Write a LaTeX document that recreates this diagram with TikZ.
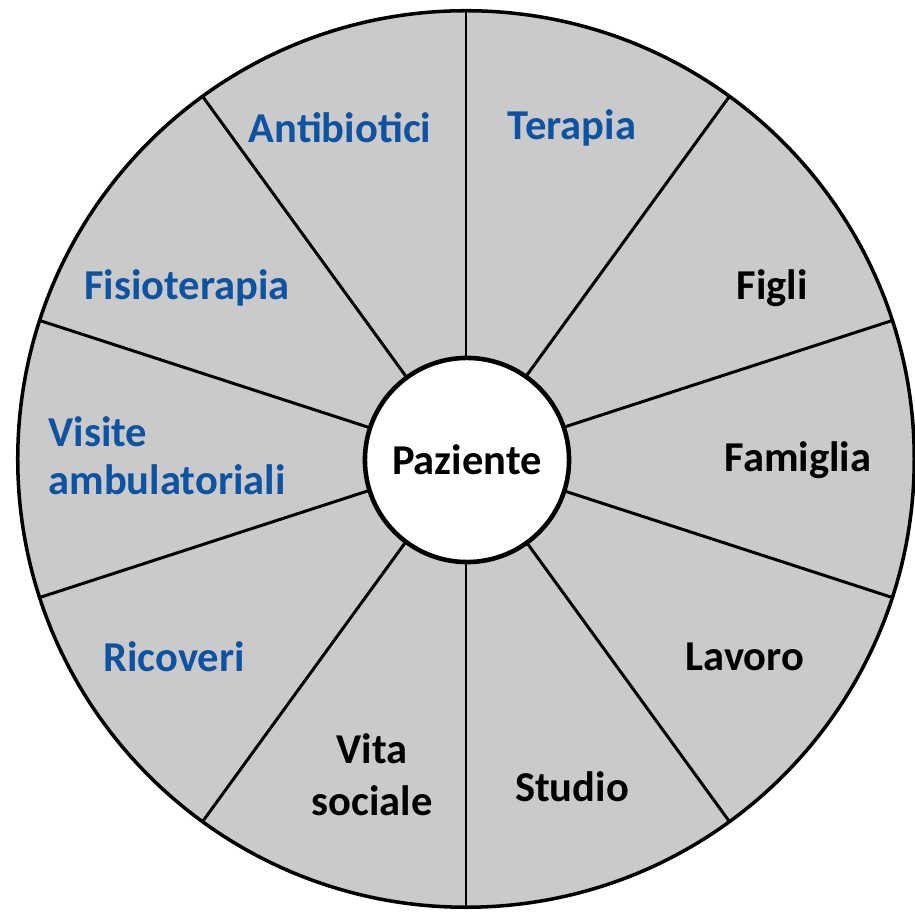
\documentclass[tikz,border=0pt]{standalone}
\usepackage{fontspec}
\setmainfont{Carlito}
\definecolor{wheelgray}{RGB}{202,202,202}
\definecolor{careblue}{RGB}{14,82,162}
\tikzset{
  sector/.style={font=\fontsize{12.1}{14.8}\selectfont\bfseries, align=center},
  care/.style={sector, text=careblue},
  life/.style={sector, text=black},
  spoke/.style={line width=0.85pt}
}
\begin{document}
\begin{tikzpicture}[x=0.01cm,y=0.01cm]
\useasboundingbox (-466,-454) rectangle (449,459);
\draw[line width=1pt,fill=wheelgray] (0,0) circle (4.48cm);

\draw[spoke] (0,0) -- (90:448);
\draw[spoke] (0,0) -- (54:448);
\draw[spoke] (0,0) -- (18:448);
\draw[spoke] (0,0) -- (-18:448);
\draw[spoke] (0,0) -- (-54:448);
\draw[spoke] (0,0) -- (-90:448);
\draw[spoke] (0,0) -- (-126:448);
\draw[spoke] (0,0) -- (-162:448);
\draw[spoke] (0,0) -- (162:448);
\draw[spoke] (0,0) -- (126:448);

\node[circle,draw,line width=1.3pt,fill=white,minimum size=2.04cm,life] (paziente) at (1,-1) {Paziente};

\node[care] (antibiotici) at (-126,331) {Antibiotici};
\node[care] (terapia) at (106,331) {Terapia};
\node[care] (fisioterapia) at (-279,171) {Fisioterapia};
\node[care,align=left,font=\fontsize{12.1}{13.7}\selectfont\bfseries] (visite) at (-299,3) {Visite\\ambulatoriali};
\node[care] (ricoveri) at (-292,-198) {Ricoveri};

\node[life] (figli) at (306,171) {Figli};
\node[life] (famiglia) at (332,-1) {Famiglia};
\node[life] (lavoro) at (279,-198) {Lavoro};
\node[life] (studio) at (106,-328) {Studio};
\node[life] (vita) at (-94,-316) {Vita\\sociale};
\end{tikzpicture}
\end{document}
